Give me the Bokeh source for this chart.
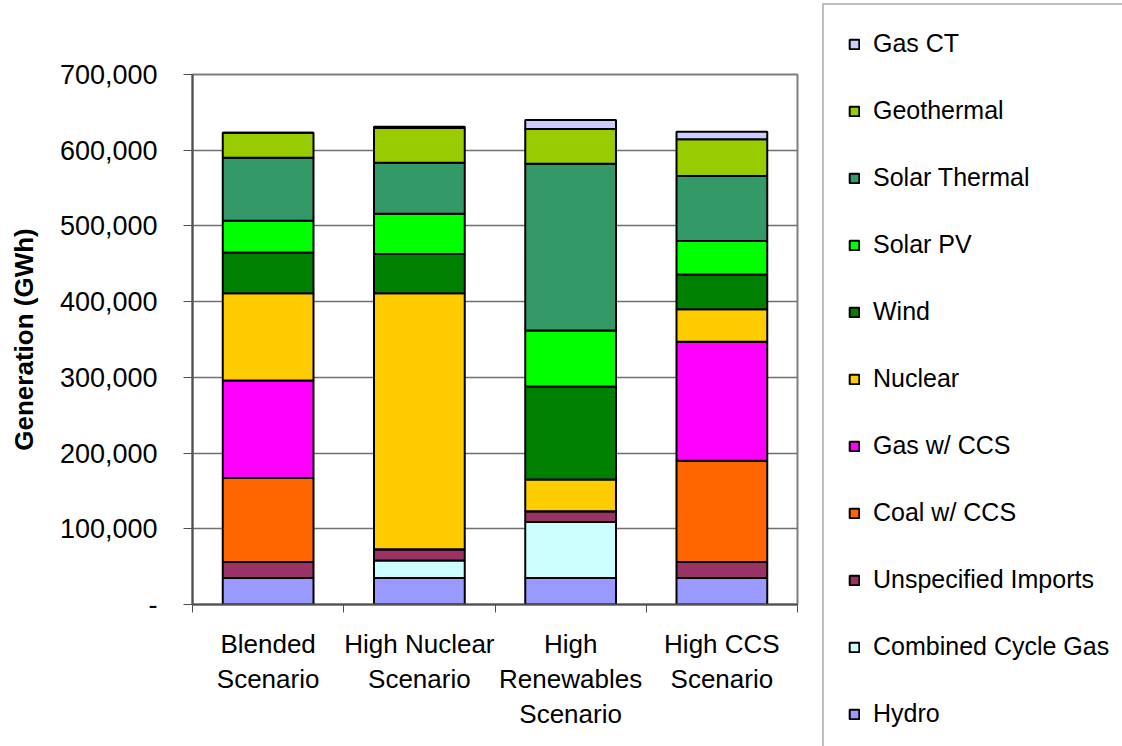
from bokeh.plotting import figure
from bokeh.models import (Range1d, FixedTicker, LinearAxis, Legend, LegendItem,
                          NumeralTickFormatter, ColumnDataSource)
from bokeh.embed import file_html
from bokeh.resources import INLINE

# ---- data ----
scenarios = ["Blended\nScenario", "High Nuclear\nScenario",
             "High\nRenewables\nScenario", "High CCS\nScenario"]
source_names = ["Hydro", "Combined Cycle Gas", "Unspecified Imports", "Coal w/ CCS",
                "Gas w/ CCS", "Nuclear", "Wind", "Solar PV", "Solar Thermal",
                "Geothermal", "Gas CT"]
hydro = [35000, 35000, 35000, 35000]
combined_cycle_gas = [0, 23000, 74000, 0]
unspecified_imports = [21000, 15000, 14000, 21000]
coal_ccs = [111000, 0, 0, 134000]
gas_ccs = [129000, 0, 0, 157000]
nuclear = [115000, 338000, 42000, 43000]
wind = [54000, 52000, 123000, 46000]
solar_pv = [42000, 53000, 74000, 44000]
solar_thermal = [83000, 67500, 220000, 86000]
geothermal = [33000, 46000, 46000, 48500]
gas_ct = [0, 1500, 12000, 10000]
y_ticks = [0, 100000, 200000, 300000, 400000, 500000, 600000, 700000]

colors = ["#9999FF", "#CCFFFF", "#993366", "#FF6600", "#FF00FF", "#FFCC00",
          "#008000", "#00FF00", "#339966", "#99CC00", "#CCCCFF"]

series = [hydro, combined_cycle_gas, unspecified_imports, coal_ccs, gas_ccs,
          nuclear, wind, solar_pv, solar_thermal, geothermal, gas_ct]
keys = ["s%d" % i for i in range(len(series))]
data = {"x": [i + 0.5 for i in range(len(scenarios))]}
for k, s in zip(keys, series):
    data[k] = s
src = ColumnDataSource(data)

FONT = "Liberation Sans"

p = figure(frame_width=605, frame_height=530, output_backend="svg",
           toolbar_location=None,
           x_range=Range1d(0, len(scenarios)), y_range=Range1d(0, 700000),
           min_border_left=192, min_border_right=325, min_border_top=74,
           min_border_bottom=142)
p.background_fill_color = "white"
p.border_fill_color = "white"
p.outline_line_color = "#808080"
p.outline_line_width = 2

renderers = p.vbar_stack(keys, x="x", width=0.6, source=src,
                         fill_color=colors, line_color="black", line_width=2)

# grid
p.xgrid.visible = False
p.ygrid.ticker = FixedTicker(ticks=y_ticks)
p.ygrid.grid_line_color = "#707070"
p.ygrid.grid_line_width = 1.5

# y axis
ya = p.yaxis[0]
ya.ticker = FixedTicker(ticks=y_ticks)
ya.formatter = NumeralTickFormatter(format="0,0")
ya.major_label_overrides = {0: "-"}
ya.major_label_text_font = FONT
ya.major_label_text_font_size = "27px"
ya.major_label_text_color = "black"
ya.major_label_standoff = 26
ya.major_tick_out = 9
ya.major_tick_in = 0
ya.minor_tick_line_color = None
ya.major_tick_line_color = "#505050"
ya.axis_line_color = "#505050"
ya.axis_line_width = 2
ya.axis_label = "Generation (GWh)"
ya.axis_label_text_font = FONT
ya.axis_label_text_font_size = "26px"
ya.axis_label_text_font_style = "bold"
ya.axis_label_text_color = "black"
ya.axis_label_standoff = 18

# x axis: boundary ticks
bounds = list(range(len(scenarios) + 1))
xa = p.xaxis[0]
xa.ticker = FixedTicker(ticks=bounds)
xa.major_label_overrides = {b: "" for b in bounds}
xa.major_label_standoff = 0
xa.major_tick_out = 8
xa.major_tick_in = 0
xa.minor_tick_line_color = None
xa.major_tick_line_color = "#505050"
xa.axis_line_color = "#505050"
xa.axis_line_width = 2

# x axis: category labels
xl = LinearAxis(ticker=FixedTicker(ticks=[i + 0.5 for i in range(len(scenarios))]),
                major_label_overrides={i + 0.5: s for i, s in enumerate(scenarios)})
xl.axis_line_color = None
xl.major_tick_line_color = None
xl.minor_tick_line_color = None
xl.major_label_text_font = FONT
xl.major_label_text_font_size = "26px"
xl.major_label_text_color = "black"
xl.major_label_text_line_height = 1.18
xl.major_label_standoff = 10
p.add_layout(xl, "below")

# ---- legend (right panel) ----
items = [LegendItem(label=name, renderers=[r])
         for name, r in zip(source_names, renderers)][::-1]
legend = Legend(items=items, location=(25, -150))
legend.label_text_font = FONT
legend.label_text_font_size = "25px"
legend.label_text_color = "black"
legend.label_height = 28
legend.label_width = 240
legend.glyph_height = 12
legend.glyph_width = 12
legend.label_standoff = 13
legend.spacing = 38
legend.padding = 24
legend.margin = 0
legend.border_line_color = "#808080"
legend.border_line_width = 2
legend.background_fill_color = "white"
legend.background_fill_alpha = 1
p.add_layout(legend, "right")

open("out.html", "w").write(file_html(p, INLINE))
